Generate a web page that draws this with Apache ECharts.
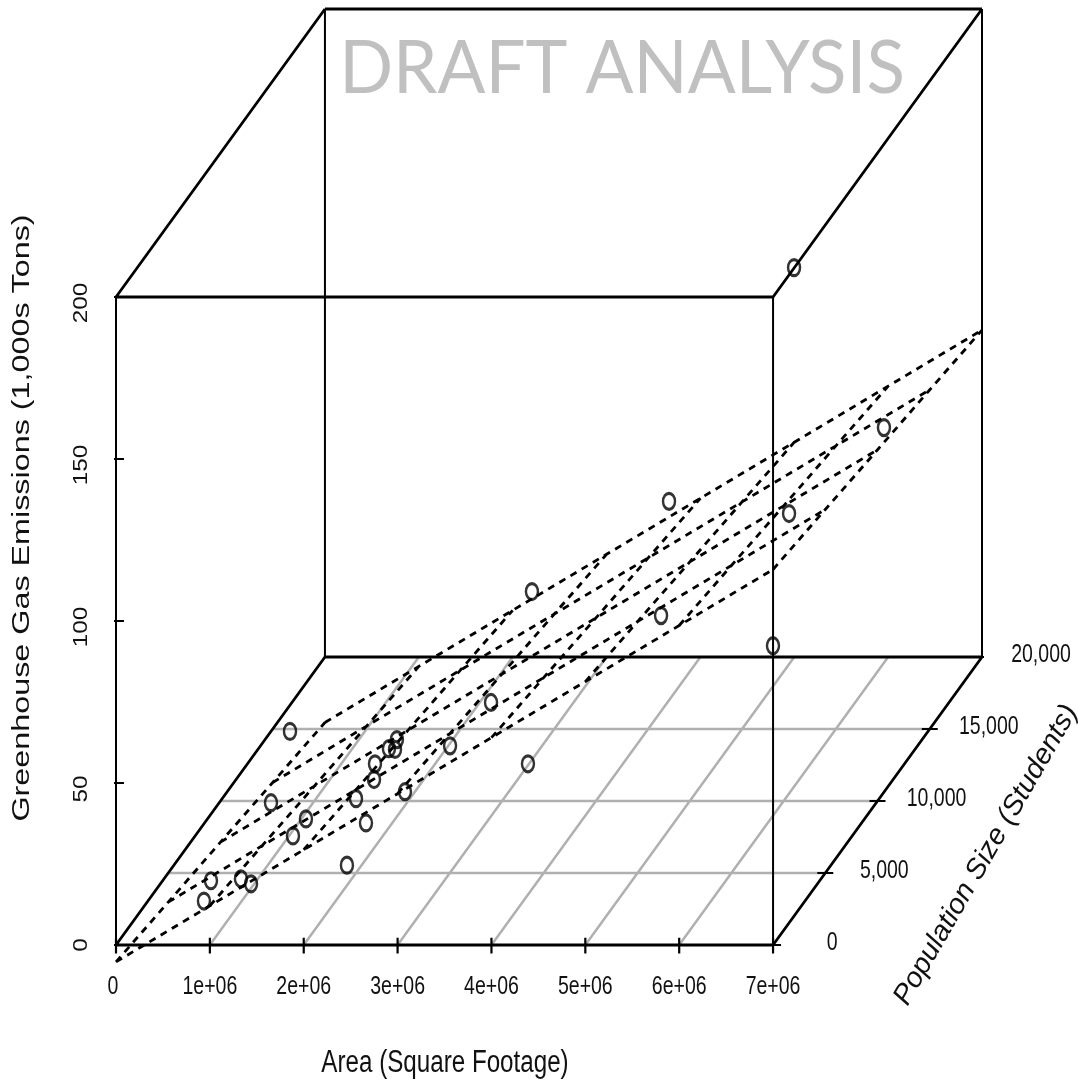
<!DOCTYPE html>
<html><head><meta charset="utf-8">
<style>html,body{margin:0;padding:0;background:#fff}#c{width:1078px;height:1081px}</style>
<script src="https://cdn.jsdelivr.net/npm/echarts@6/dist/echarts.min.js"></script>
</head><body><div id="c"></div>
<script>
const areaTicks = [0,1e6,2e6,3e6,4e6,5e6,6e6,7e6];
const areaLabels = ['0','1e+06','2e+06','3e+06','4e+06','5e+06','6e+06','7e+06'];
const popTicks = [0,5000,10000,15000,20000];
const popLabels = ['0','5,000','10,000','15,000','20,000'];
const emissionTicks = [0,50,100,150,200];
const emissionLabels = ['0','50','100','150','200'];

const pointArea = [0.770,0.678,0.997,1.216,1.440,1.467,0.872,0.518,2.349,2.218,1.889,2.081,1.980,2.522,1.906,2.082,1.991,2.891,3.105,4.055,3.207,5.139,4.556,6.554,6.280,6.957,6.556];
const pointPop = [1500,3000,3000,2000,4000,5000,7000,12000,1000,4000,6000,6000,7000,5000,9000,8000,9000,6000,8000,3000,11000,6000,12000,4000,8000,11000,6000];
const pointEmissions = [6.9,6.5,7.1,10.0,15.9,16.7,12.8,12.6,20.2,19.9,18.5,24.4,24.8,25.1,20.6,24.8,23.4,34.8,39.3,42.6,60.2,75.0,83.6,74.6,97.6,110.8,182.4];

const planeAtPop0 = [-5.2,12.1,29.4,46.7,64.0,81.3,98.6,115.9];
const planeAtPop5000 = [-9.0,8.4,25.7,43.0,60.3,77.6,94.9,112.2];
const planeAtPop10000 = [-12.7,4.6,21.9,39.2,56.5,73.8,91.1,108.4];
const planeAtPop15000 = [-16.5,0.9,18.2,35.5,52.8,70.1,87.4,104.7];
const planeAtPop20000 = [-20.2,-2.9,14.4,31.7,49.0,66.3,83.6,100.9];
const planeRows = [planeAtPop0,planeAtPop5000,planeAtPop10000,planeAtPop15000,planeAtPop20000];

const SX = 111.3, SY = 0.004444;
const XMAX = 7e6 + 20000*SX, YMAX = 200 + 20000*SY;
const P = (a,p,z) => [a + p*SX, z + p*SY];
const AMAX = 7e6, PMAX = 20000, ZMAX = 200;
const SANS = '"Liberation Sans",Arial,sans-serif';

function seg(name, pts, color, width, z, dash){
  return {name, type:'line', data:pts, showSymbol:false, symbol:'none', clip:false, silent:true,
    animation:false, connectNulls:false, z, lineStyle:{color, width, type:dash||'solid', cap:'butt'}};
}
// Text placed through the chart's own scales; the scale factors reproduce the source's stretched glyphs.
function textSeries(name, items, o){
  return {name, type:'custom', coordinateSystem:'cartesian2d', silent:true, animation:false, z:6, clip:false,
    data:items.map(it=>it.pos),
    renderItem:(params,api)=>{
      const c = api.coord([api.value(0),api.value(1)]);
      const it = items[params.dataIndex];
      return {type:'text', x:c[0]+(it.dx||0), y:c[1]+(it.dy||0), rotation:o.rotation||0, scaleX:o.scaleX, scaleY:1, silent:true,
        style:{text:it.text, fill:'#111', font:o.font, align:'center', verticalAlign:'middle'}};
    }};
}
const series = [];
const grey = [];
areaTicks.slice(1,-1).forEach(a=>{grey.push(P(a,0,0),P(a,PMAX,0),[null,null]);});
popTicks.slice(1,-1).forEach(p=>{grey.push(P(0,p,0),P(AMAX,p,0),[null,null]);});
series.push(seg('floor grid',grey,'#b0b0b0',2.5,1));
const thin = [
  P(0,0,0),P(0,0,ZMAX),[null,null],
  P(AMAX,0,0),P(AMAX,0,ZMAX),[null,null],
  P(0,PMAX,0),P(0,PMAX,ZMAX),[null,null],
  P(AMAX,PMAX,0),P(AMAX,PMAX,ZMAX)
];
series.push(seg('box verticals',thin,'#000',2,2));
const thick = [
  P(0,0,0),P(AMAX,0,0),[null,null],
  P(0,0,ZMAX),P(AMAX,0,ZMAX),[null,null],
  P(0,PMAX,0),P(AMAX,PMAX,0),[null,null],
  P(0,PMAX,ZMAX),P(AMAX,PMAX,ZMAX),[null,null],
  P(0,0,0),P(0,PMAX,0),[null,null],
  P(AMAX,0,0),P(AMAX,PMAX,0),[null,null],
  P(0,0,ZMAX),P(0,PMAX,ZMAX),[null,null],
  P(AMAX,0,ZMAX),P(AMAX,PMAX,ZMAX)
];
series.push(seg('box edges',thick,'#000',2.8,3));
const ticks = [];
areaTicks.forEach(a=>{ticks.push(P(a,0,-2.6),P(a,0,2.2),[null,null]);});
emissionTicks.forEach(z=>{ticks.push(P(-85000,0,z),P(85000,0,z),[null,null]);});
popTicks.forEach(p=>{ticks.push(P(AMAX-85000,p,0),P(AMAX+85000,p,0),[null,null]);});
series.push(seg('ticks',ticks,'#000',2.2,3));
const plane = [];
planeRows.forEach((row,i)=>{row.forEach((z,j)=>plane.push(P(areaTicks[j],popTicks[i],z)));plane.push([null,null]);});
areaTicks.forEach((a,j)=>{planeRows.forEach((row,i)=>plane.push(P(a,popTicks[i],row[j])));plane.push([null,null]);});
series.push(seg('plane',plane,'#000',2.8,4,[7,6]));
series.push({name:'schools',type:'scatter',clip:false,silent:true,animation:false,z:5,symbol:'circle',symbolSize:[12,16],
  itemStyle:{color:'rgba(0,0,0,0)',borderColor:'#000',borderWidth:2.8},
  data:pointArea.map((a,i)=>P(a*1e6,pointPop[i],pointEmissions[i]))});
series.push(textSeries('area tick labels',areaTicks.map((a,i)=>({pos:P(a,0,0),text:areaLabels[i],dy:42,dx:a?0:-3})),{font:'25px '+SANS,scaleX:0.78}));
series.push(textSeries('population tick labels',popTicks.map((p,i)=>({pos:P(AMAX,p,0),text:popLabels[i],dx:59,dy:-2})),{font:'25px '+SANS,scaleX:0.78}));
series.push(textSeries('emission tick labels',emissionTicks.map((z,i)=>({pos:P(0,0,z),text:emissionLabels[i],dx:-35,dy:z?6:0})),{font:'20px '+SANS,scaleX:1.22,rotation:Math.PI/2}));

const chart = echarts.init(document.getElementById('c'),null,{renderer:'canvas',width:1078,height:1081});
chart.setOption({
  animation:false,backgroundColor:'#fff',
  grid:{left:116,top:9,width:866,height:936,containLabel:false,outerBoundsMode:'none'},
  xAxis:{type:'value',min:0,max:XMAX,axisLine:{show:false},axisTick:{show:false},splitLine:{show:false},axisLabel:{show:false}},
  yAxis:{type:'value',min:0,max:YMAX,axisLine:{show:false},axisTick:{show:false},splitLine:{show:false},axisLabel:{show:false}},
  graphic:[
    {type:'text',x:622,y:69,scaleX:0.958,z:10,silent:true,style:{text:'DRAFT ANALYSIS',align:'center',verticalAlign:'middle',fill:'#c0c0c0',font:'74px Lato,"Open Sans",sans-serif'}},
    {type:'text',x:445,y:1063,scaleX:0.78,z:10,silent:true,style:{text:'Area (Square Footage)',align:'center',verticalAlign:'middle',fill:'#111',font:'31px '+SANS}},
    {type:'text',x:23,y:518,rotation:Math.PI/2,scaleX:1.405,z:10,silent:true,style:{text:'Greenhouse Gas Emissions (1,000s Tons)',align:'center',verticalAlign:'middle',fill:'#111',font:'23px '+SANS}},
    {type:'text',x:986,y:855,rotation:60*Math.PI/180,scaleX:1.03,z:10,silent:true,style:{text:'Population Size (Students)',align:'center',verticalAlign:'middle',fill:'#111',font:'italic 28px '+SANS}}
  ],
  series
});
</script></body></html>
